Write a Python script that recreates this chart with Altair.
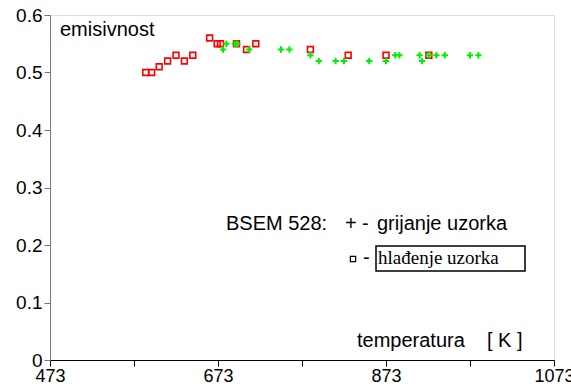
import altair as alt
import pandas as pd

# cooling (hlađenje) - red squares
cool_T = [587, 594, 603, 613, 623, 633, 643, 663, 672, 676, 695, 707, 718, 783, 828, 873, 924]
cool_e = [0.50, 0.50, 0.51, 0.52, 0.53, 0.52, 0.53, 0.56, 0.55, 0.55, 0.55, 0.54, 0.55, 0.54, 0.53, 0.53, 0.53]

# heating (grijanje) - green crosses
heat_T = [679, 683, 693, 696, 710, 748, 758, 783, 793, 813, 823, 853, 873, 884, 889, 913, 916, 924, 933, 943, 973, 983]
heat_e = [0.54, 0.55, 0.55, 0.55, 0.54, 0.54, 0.54, 0.53, 0.52, 0.52, 0.52, 0.52, 0.52, 0.53, 0.53, 0.53, 0.52, 0.53, 0.53, 0.53, 0.53, 0.53]

x_ticks = [473, 573, 673, 773, 873, 973, 1073]
y_ticks = [0, 0.1, 0.2, 0.3, 0.4, 0.5, 0.6]

cool = pd.DataFrame({"T": cool_T, "e": cool_e})
heat = pd.DataFrame({"T": heat_T, "e": heat_e})

FONT = "Liberation Sans"

xs = alt.Scale(domain=[473, 1073], nice=False, zero=False)
ys = alt.Scale(domain=[0, 0.6], nice=False)

x_enc = alt.X("T:Q", scale=xs, axis=alt.Axis(
    values=x_ticks, title=None, grid=False,
    labelExpr="(datum.value - 473) % 200 == 0 ? datum.value : ''",
    labelFont=FONT, labelFontSize=18, labelColor="black",
    tickColor="black", domainColor="black", tickSize=6, labelPadding=1,
    labelFlush=False, labelOverlap=False))
y_enc = alt.Y("e:Q", scale=ys, axis=alt.Axis(
    values=y_ticks, title=None, grid=False, format="~g",
    labelFont=FONT, labelFontSize=19, labelColor="black",
    tickColor="#777777", domainColor="#777777", tickSize=6, labelPadding=2,
    labelFlush=False, labelOverlap=False))

red = alt.Chart(cool).mark_point(shape="square", size=34, filled=False,
                                 color="#ff0000", strokeWidth=1.6, opacity=1).encode(x=x_enc, y=y_enc)
green = alt.Chart(heat).mark_point(shape="M-1,0H1M0,-1V1", size=40, filled=False,
                                   color="#00f000", strokeWidth=2, opacity=1).encode(x="T:Q", y="e:Q")

def txt(s, x, y, size=20, font=FONT):
    return alt.Chart(pd.DataFrame({"t": [s]})).mark_text(
        text=s, font=font, fontSize=size, color="black", align="left", baseline="alphabetic"
    ).encode(x=alt.value(x), y=alt.value(y))

box = alt.Chart(pd.DataFrame({"a": [0]})).mark_rect(fill="white", stroke="black", strokeWidth=1.5).encode(
    x=alt.value(326), x2=alt.value(475), y=alt.value(231), y2=alt.value(256))

sq = alt.Chart(pd.DataFrame({"a": [0]})).mark_point(shape="square", size=28, filled=False,
                                                   color="black", strokeWidth=1.2, opacity=1).encode(
    x=alt.value(303), y=alt.value(244))

chart = alt.layer(
    red, green,
    txt("emisivnost", 10, 21),
    txt("BSEM 528:", 176, 215),
    txt("+", 295, 215),
    txt("-", 312, 215),
    txt("grijanje uzorka", 327, 215),
    box,
    sq,
    txt("-", 313, 249),
    txt("hlađenje uzorka", 328, 249, size=19, font="Liberation Serif"),
    txt("temperatura", 307, 332),
    txt("[ K ]", 437, 332),
).properties(
    width=504, height=345,
    padding={"left": 50, "top": 15, "right": 17, "bottom": 26},
    autosize=alt.AutoSizeParams(type="none"),
).configure_view(stroke="black", strokeWidth=1.2).configure(background="white")

chart.save("out.html", embed_options={"renderer": "svg", "actions": False})
